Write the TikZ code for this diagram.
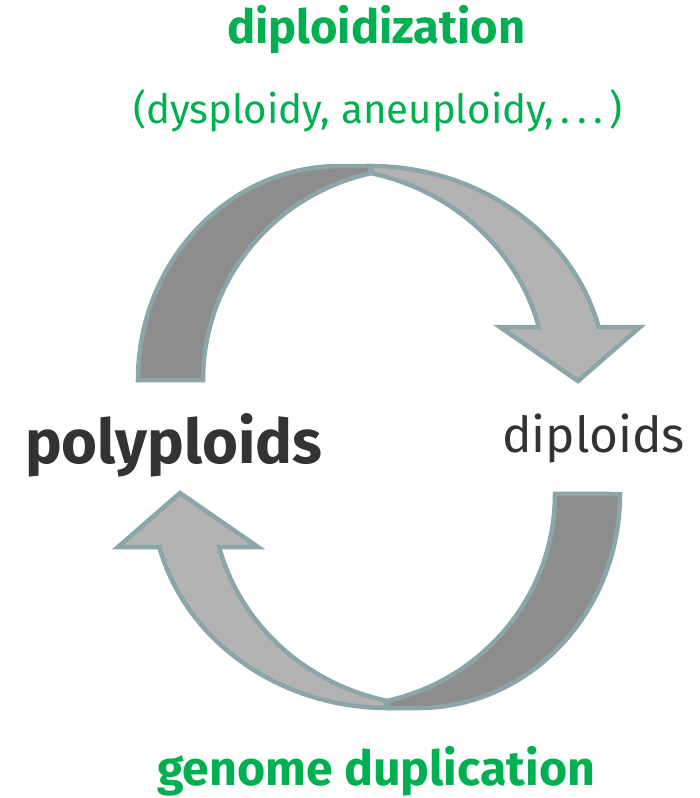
\documentclass[tikz,border=0pt]{standalone}
\usepackage{fontspec}
\setmainfont{Fira Sans}
\usepackage{graphicx}
\definecolor{ppgreen}{RGB}{0,176,80}
\definecolor{txtdark}{RGB}{51,51,51}
\definecolor{edge}{RGB}{138,166,168}
\definecolor{darkband}{RGB}{141,141,141}
\definecolor{lightband}{RGB}{179,179,179}
\tikzset{
  band/.style={draw=edge, line width=4.5pt, line join=miter},
  lbl/.style={anchor=base west, inner sep=0pt, outer sep=0pt},
}
\newcommand{\cyclearrow}{%
  % back (tail) part
  \draw[band, fill=darkband] (138,-380)
    arc[start angle=180, end angle=90, x radius=202pt, y radius=214pt]
    -- (370,-166) -- (370,-173.4)
    arc[start angle=102.9, end angle=180, x radius=215pt, y radius=212pt] -- cycle;
  % front part with head
  \draw[band, fill=lightband] (370,-166)
    arc[start angle=90, end angle=14.34, x radius=236pt, y radius=214pt]
    -- (640,-327) -- (578,-381) -- (500,-327) -- (538.9,-327)
    arc[start angle=14.48, end angle=76.8, x radius=224pt, y radius=212pt] -- cycle;
}
\begin{document}
\begin{tikzpicture}[x=1pt,y=1pt]
\useasboundingbox (0,0) rectangle (700,-798);
\cyclearrow
\begin{scope}[rotate around={180:(379,-437)}]
\cyclearrow
\end{scope}
\node[lbl, text=ppgreen] (dz) at (227,-43) {\resizebox{298pt}{!}{\bfseries diploidization}};
\node[lbl, text=ppgreen] (dy) at (133,-123) {\resizebox{490pt}{!}{(dysploidy, aneuploidy,\,.\,.\,.\,)}};
\node[lbl, text=txtdark] (pp) at (25,-463) {\resizebox{297pt}{!}{\bfseries polyploids}};
\node[lbl, text=txtdark] (dp) at (502,-452) {\resizebox{183pt}{!}{diploids}};
\node[lbl, text=ppgreen] (gd) at (157,-785) {\resizebox{438pt}{!}{\bfseries genome duplication}};
\end{tikzpicture}
\end{document}
